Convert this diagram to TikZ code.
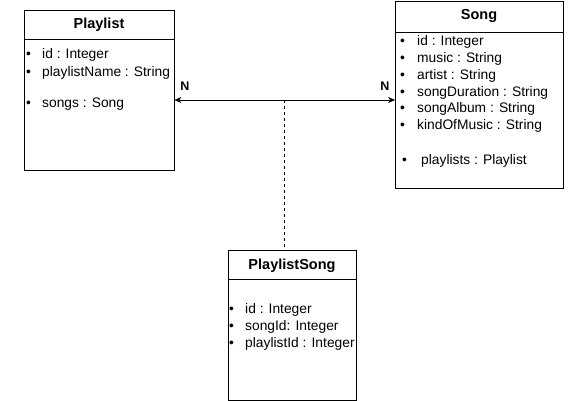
\documentclass[tikz,border=0pt]{standalone}
\usepackage{fontspec}
\setmainfont{Liberation Sans}
\usetikzlibrary{arrows.meta}

\begin{document}
\begin{tikzpicture}[x=1pt,y=-1pt,
   box/.style={rectangle,draw,anchor=north west,inner sep=0pt},
   title/.style={inner sep=0pt,font=\fontsize{14.5}{16}\selectfont\bfseries},
   field/.style={anchor=base west,inner sep=0pt,font=\fontsize{13.8}{15}\selectfont},
   card/.style={inner sep=0pt,font=\fontsize{12.5}{14}\selectfont\bfseries}
   ]
  \useasboundingbox (0,0) rectangle (576,401);

  % -- Playlist
  \node[box,minimum width=150pt,minimum height=160pt] at (24,10) (playlist) {};
  \draw ([yshift=-29pt]playlist.north west) -- ([yshift=-29pt]playlist.north east);
  \node[title] at (99,25) (playlisttitle) {Playlist};
  \foreach \y/\t in {59/id : Integer,77/playlistName : String,108/songs : Song}{
    \node[field] at (26,\y) {\textbullet};
    \node[field] at (42,\y) {\t};
  }

  % -- Song
  \node[box,minimum width=168pt,minimum height=187pt] at (395,1) (song) {};
  \draw ([yshift=-31pt]song.north west) -- ([yshift=-31pt]song.north east);
  \node[title] at (479,16) (songtitle) {Song};
  \foreach \y/\t in {46/id : Integer,63/music : String,80/artist : String,
    97/songDuration : String,113/songAlbum : String,130/kindOfMusic : String}{
    \node[field] at (400,\y) {\textbullet};
    \node[field] at (417,\y) {\t};
  }
  \node[field] at (402,165) {\textbullet};
  \node[field] at (421,165) {playlists : Playlist};

  % -- PlaylistSong
  \node[box,minimum width=128pt,minimum height=150pt] at (228,250) (plsong) {};
  \draw ([yshift=-29pt]plsong.north west) -- ([yshift=-29pt]plsong.north east);
  \node[title] at (292,266) (plsongtitle) {PlaylistSong};
  \foreach \y/\t in {313/id : Integer,330/songId: Integer,347/playlistId : Integer}{
    \node[field] at (229,\y) {\textbullet};
    \node[field] at (245,\y) {\t};
  }

  % -- association
  \coordinate (mid) at (284.5,100);
  \draw[{Stealth[length=7pt,width=6pt]}-{Stealth[length=7pt,width=6pt]}]
    (playlist.east |- mid) -- (song.west |- mid);
  \draw[dashed] (mid) -- (mid |- plsong.north);
  \node[card] at (185,86) (nleft) {N};
  \node[card] at (385,86) (nright) {N};

\end{tikzpicture}
\end{document}
